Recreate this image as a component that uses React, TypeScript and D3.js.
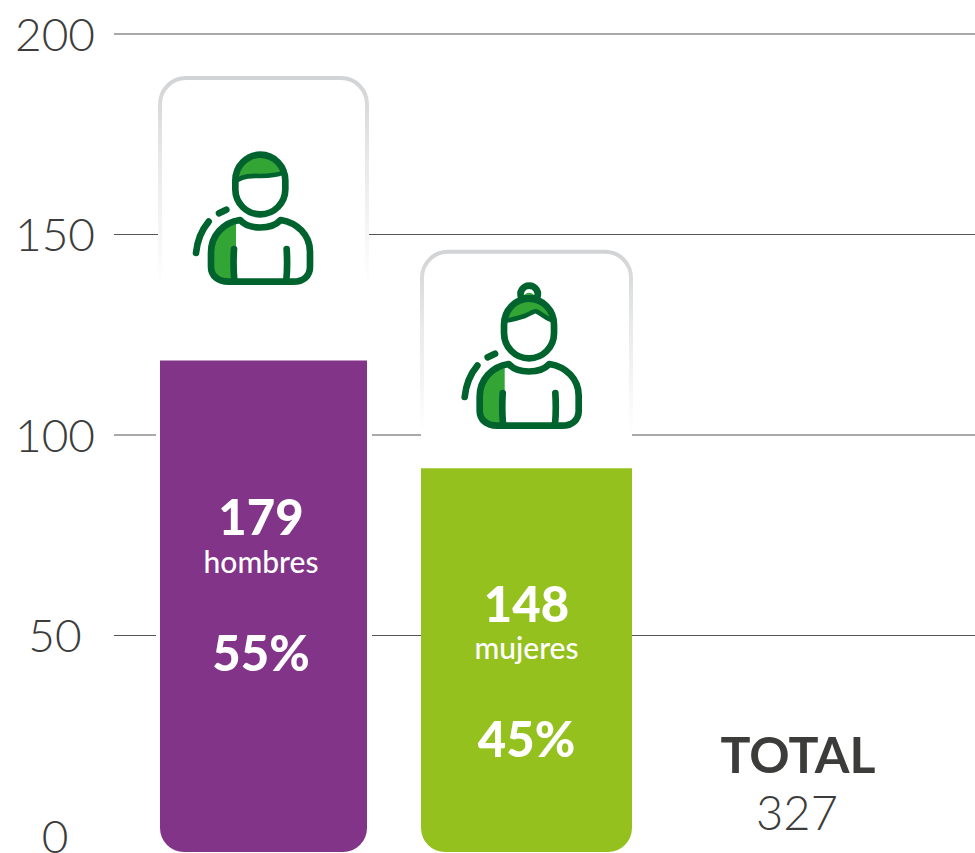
import React from "react";
import * as d3 from "d3";

const tickValues = [0, 50, 100, 150, 200];
const categories = ["hombres", "mujeres"];
const counts = [179, 148];
const shares = ["55%", "45%"];
const colours = ["#823488", "#95c11f"];
const cardTops = [189, 145.7];
const fillTops = [118.6, 91.7];
const barBottom = -4;
const total = 327;

const W = 975, H = 853;
const y = d3.scaleLinear().domain([0, 200]).range([836, 34]);
const x = d3.scaleBand<string>().domain(categories).range([160, 632]);
const barX: Record<string, [number, number]> = { hombres: [160, 367], mujeres: [421, 632] };

const dark = "#00632e", mid = "#33a535";
const FONT = "Lato, sans-serif";

function topRound(x0: number, x1: number, top: number, bottom: number, r: number) {
  const p = d3.path();
  p.moveTo(x0, bottom);
  p.lineTo(x0, top + r);
  p.arcTo(x0, top, x0 + r, top, r);
  p.lineTo(x1 - r, top);
  p.arcTo(x1, top, x1, top + r, r);
  p.lineTo(x1, bottom);
  return p.toString();
}
function bottomRound(x0: number, x1: number, top: number, bottom: number, r: number) {
  const p = d3.path();
  p.moveTo(x0, top);
  p.lineTo(x1, top);
  p.lineTo(x1, bottom - r);
  p.arcTo(x1, bottom, x1 - r, bottom, r);
  p.lineTo(x0 + r, bottom);
  p.arcTo(x0, bottom, x0, bottom - r, r);
  p.closePath();
  return p.toString();
}

function Person({ dx, dy, bun }: { dx: number; dy: number; bun: boolean }) {
  const sw = 20;
  const common = { fill: "none", stroke: dark, strokeWidth: sw, strokeLinecap: "round" as const, strokeLinejoin: "round" as const };
  return (
    <g transform={`translate(${150 + dx},${70 + dy}) scale(0.3333)`}>
      {/* sleeve shading */}
      <path d="M258,462 C215,470 183,505 183,548 V590 C183,618 205,635 235,635 H258 Z" fill={mid} />
      {/* hair */}
      {bun ? (
        <path d="M262,318 C275,275 300,254 331,254 C362,254 388,275 398,318 C385,312 370,300 350,292 C335,302 318,302 300,308 C285,312 275,316 262,318 Z" fill={mid} />
      ) : (
        <path d="M262,325 C275,280 300,254 331,254 C360,254 385,275 398,305 C360,325 320,305 262,325 Z" fill={mid} />
      )}
      {bun && <path d="M308,252 A26,26 0 1 1 355,252 Z" fill="white" stroke={dark} strokeWidth={sw} strokeLinejoin="round" />}
      {bun && <path d="M318,243 A16,14 0 0 1 345,243 Z" fill={mid} />}
      <path d="M256,332 A75,78 0 0 1 406,332 V358 A75,75 0 0 1 256,358 Z" {...common} />
      {bun ? (
        <path d="M262,320 C285,316 300,312 318,306 C335,300 345,290 352,292 C365,296 378,312 400,318" {...common} strokeWidth={14} />
      ) : (
        <path d="M262,330 C300,305 345,330 400,308" {...common} strokeWidth={14} />
      )}
      <path d="M270,450 C295,480 365,480 392,450 C442,458 480,495 480,545 V590 C480,618 460,635 430,635 H235 C205,635 183,618 183,590 V548 C183,497 220,457 270,450 Z" {...common} />
      <path d="M252,537 C250,570 250,600 253,630 M410,537 C412,570 412,600 409,630" {...common} />
      <path d="M176,455 C155,480 142,510 138,549 M207,430 L229,419" {...common} />
    </g>
  );
}

export default function App() {
  return (
    <svg width={W} height={H} viewBox={`0 0 ${W} ${H}`} style={{ position: "absolute", left: 0, top: 0, background: "#fff" }} fontFamily={FONT}>
      <defs>
        <linearGradient id="fade" gradientUnits="objectBoundingBox" x1="0" x2="0" y1="0" y2="1">
          <stop offset="0" stopColor="#d2d3d5" />
          <stop offset="0.4" stopColor="#e8e9ea" />
          <stop offset="1" stopColor="#ffffff" />
        </linearGradient>
      </defs>

      {tickValues.map((t) => (
        <g key={t}>
          {t > 0 && <line x1={114} x2={W} y1={y(t)} y2={y(t)} stroke="#555" strokeWidth={1.2} />}
          <text x={55} y={y(t) + 16.5} textAnchor="middle" fontSize={46} fontWeight={300} fill="#3c3c3b">{t}</text>
        </g>
      ))}

      {categories.map((c, i) => {
        const [x0, x1] = barX[c];
        const cardTop = y(cardTops[i]);
        const fillTop = y(fillTops[i]);
        const cx = (x0 + x1) / 2 + (i === 0 ? -2.5 : 0);
        const fade = i === 0 ? 285 : 432;
        return (
          <g key={c}>
            <rect x={i === 0 ? 155 : 372} y={y(52)} width={i === 0 ? 217 - 0 : 49} height={10} fill="none" />
            <rect x={i === 0 ? 156 : 421} y={y(112)} width={i === 0 ? 216 : 211} height={y(barBottom) - y(112)} fill="#fff" />
            <path d={topRound(x0 - (i === 0 ? 0 : -1), x1 + (i === 0 ? 0 : -1), cardTop, fade, 26)} fill="#fff" stroke="url(#fade)" strokeWidth={4} />
            <rect x={x0 + 1} y={fade - 4} width={x1 - x0 - 2} height={fillTop - fade + 4} fill="#fff" />
            <Person dx={i === 0 ? 0 : 268.7} dy={i === 0 ? 0 : 144} bun={i === 1} />
            <path d={bottomRound(x0, x1, fillTop, y(barBottom), 24)} fill={colours[i]} />
            <text x={cx + (i === 0 ? 0 : 0)} y={fillTop + 175 - (i === 0 ? 0 : 21)} textAnchor="middle" fontSize={49} fontWeight={900} fill="#fff">{counts[i]}</text>
            <text x={cx} y={fillTop + 213 - (i === 0 ? 0 : 22)} textAnchor="middle" fontSize={30} fontWeight={500} fill="#fff">{c}</text>
            <text x={cx} y={fillTop + 311 - (i === 0 ? 0 : 22)} textAnchor="middle" fontSize={49} fontWeight={900} fill="#fff">{shares[i]}</text>
          </g>
        );
      })}

      <text x={798} y={773} textAnchor="middle" fontSize={50} fontWeight={700} fill="#3c3c3b">TOTAL</text>
      <text x={797} y={830} textAnchor="middle" fontSize={47} fontWeight={300} fill="#3c3c3b">{total}</text>
    </svg>
  );
}
